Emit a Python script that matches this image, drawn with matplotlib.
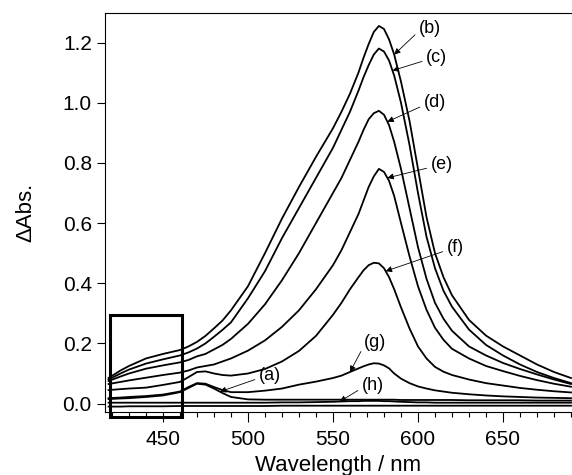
import numpy as np
import matplotlib.pyplot as plt
from matplotlib.patches import Rectangle
from matplotlib.ticker import MultipleLocator

plt.rcParams['font.family'] = ['Liberation Sans', 'DejaVu Sans']

wl = [418, 425, 430, 440, 450, 460, 465, 470, 475, 480, 485, 490, 500, 510, 520,
      530, 540, 550, 555, 560, 565, 568, 571, 574, 577, 580, 583, 586, 590, 595,
      600, 605, 610, 615, 620, 630, 640, 650, 660, 670, 680, 690]

# Spectres (a) ... (h) + ligne de base
b = [0.085, 0.110, 0.125, 0.150, 0.165, 0.178, 0.190, 0.205, 0.225, 0.250, 0.276, 0.310, 0.390, 0.500, 0.615,
     0.720, 0.820, 0.915, 0.970, 1.030, 1.100, 1.150, 1.195, 1.235, 1.255, 1.245, 1.210, 1.160, 1.070, 0.940,
     0.780, 0.620, 0.500, 0.420, 0.360, 0.278, 0.226, 0.190, 0.160, 0.130, 0.105, 0.085]
c = [0.080, 0.100, 0.113, 0.133, 0.147, 0.160, 0.170, 0.183, 0.200, 0.222, 0.245, 0.270, 0.350, 0.440, 0.550,
     0.650, 0.750, 0.850, 0.910, 0.970, 1.040, 1.085, 1.125, 1.160, 1.180, 1.170, 1.140, 1.090, 1.000, 0.860,
     0.700, 0.555, 0.450, 0.375, 0.322, 0.246, 0.195, 0.160, 0.130, 0.105, 0.085, 0.068]
d = [0.075, 0.090, 0.100, 0.116, 0.127, 0.137, 0.145, 0.157, 0.165, 0.180, 0.195, 0.215, 0.265, 0.330, 0.410,
     0.500, 0.600, 0.700, 0.750, 0.810, 0.870, 0.910, 0.945, 0.965, 0.973, 0.960, 0.925, 0.870, 0.780, 0.650,
     0.520, 0.415, 0.335, 0.282, 0.242, 0.190, 0.160, 0.135, 0.115, 0.097, 0.080, 0.065]
e = [0.065, 0.072, 0.077, 0.086, 0.095, 0.103, 0.110, 0.120, 0.125, 0.130, 0.140, 0.150, 0.176, 0.210, 0.255,
     0.310, 0.380, 0.460, 0.510, 0.570, 0.630, 0.675, 0.720, 0.755, 0.780, 0.770, 0.740, 0.690, 0.600, 0.490,
     0.390, 0.312, 0.252, 0.212, 0.182, 0.150, 0.125, 0.108, 0.092, 0.078, 0.066, 0.056]
f = [0.045, 0.048, 0.050, 0.053, 0.062, 0.072, 0.088, 0.105, 0.107, 0.100, 0.095, 0.093, 0.100, 0.115, 0.140,
     0.175, 0.225, 0.295, 0.335, 0.380, 0.420, 0.443, 0.460, 0.468, 0.466, 0.450, 0.420, 0.380, 0.320, 0.250,
     0.190, 0.150, 0.122, 0.106, 0.095, 0.080, 0.068, 0.060, 0.052, 0.046, 0.041, 0.037]
g = [0.018, 0.020, 0.022, 0.025, 0.030, 0.040, 0.055, 0.068, 0.066, 0.055, 0.045, 0.038, 0.038, 0.043, 0.050,
     0.063, 0.073, 0.085, 0.093, 0.105, 0.117, 0.124, 0.130, 0.134, 0.133, 0.127, 0.117, 0.100, 0.083, 0.068,
     0.057, 0.050, 0.044, 0.040, 0.036, 0.031, 0.027, 0.024, 0.022, 0.020, 0.019, 0.018]
a = [0.015, 0.017, 0.018, 0.022, 0.027, 0.038, 0.052, 0.066, 0.063, 0.050, 0.035, 0.022, 0.014, 0.013, 0.013,
     0.013, 0.013, 0.013, 0.013, 0.013, 0.013, 0.013, 0.013, 0.013, 0.013, 0.013, 0.013, 0.013, 0.012, 0.012,
     0.012, 0.012, 0.012, 0.012, 0.012, 0.011, 0.011, 0.011, 0.011, 0.010, 0.010, 0.010]
h = [0.003, 0.003, 0.003, 0.003, 0.003, 0.003, 0.003, 0.003, 0.003, 0.003, 0.003, 0.003, 0.003, 0.003, 0.004,
     0.004, 0.005, 0.006, 0.007, 0.008, 0.008, 0.009, 0.009, 0.009, 0.009, 0.008, 0.008, 0.007, 0.006, 0.005,
     0.004, 0.004, 0.003, 0.003, 0.003, 0.003, 0.003, 0.003, 0.003, 0.003, 0.003, 0.003]
base = [-0.010, -0.010, -0.009, -0.009, -0.009, -0.008, -0.008, -0.008, -0.008, -0.008, -0.008, -0.008, -0.008,
        -0.008, -0.007, -0.007, -0.007, -0.007, -0.007, -0.007, -0.007, -0.007, -0.007, -0.007, -0.007, -0.007,
        -0.007, -0.007, -0.007, -0.007, -0.007, -0.007, -0.007, -0.007, -0.007, -0.007, -0.007, -0.007, -0.007,
        -0.007, -0.007, -0.007]

series = {'(a)': a, '(b)': b, '(c)': c, '(d)': d, '(e)': e, '(f)': f, '(g)': g, '(h)': h}

# Étiquettes : position du texte (nm, ΔAbs) et longueur d'onde visée par la flèche
labels = ['(a)', '(b)', '(c)', '(d)', '(e)', '(f)', '(g)', '(h)']
text_x = [513, 607, 611, 610, 614, 622, 575, 573.5]
text_y = [0.093, 1.246, 1.15, 1.0, 0.794, 0.518, 0.203, 0.06]
tip_x = [483.5, 586, 585, 582, 582, 581, 560, 554]

fig = plt.figure(figsize=(5.72, 4.75), dpi=100)
ax = fig.add_axes([0.1836, 0.1326, 0.8164, 0.84])

for s in [base, h, a, g, f, e, d, c, b]:
    ax.plot(wl, s, color='black', lw=1.3)

for lab, tx, ty, px in zip(labels, text_x, text_y, tip_x):
    py = np.interp(px, wl, series[lab])
    ax.annotate(lab, xy=(px, py), xytext=(tx, ty), ha='center', va='center', fontsize=13,
                arrowprops=dict(arrowstyle='-|>', color='black', lw=0.6, mutation_scale=9,
                                shrinkA=1, shrinkB=0, relpos=(0.0, 0.35)))

# Cadre autour de la zone 420-460 nm
ax.add_patch(Rectangle((419, -0.045), 42, 0.341, fill=False, lw=2.2, ec='black', clip_on=False))

ax.set_xlim(415.9, 690.6)
ax.set_ylim(-0.028, 1.298)
ax.xaxis.set_major_locator(MultipleLocator(50))
ax.xaxis.set_minor_locator(MultipleLocator(10))
ax.yaxis.set_major_locator(MultipleLocator(0.2))
ax.yaxis.set_major_formatter(plt.FormatStrFormatter('%.1f'))
ax.tick_params(which='major', direction='out', length=6, width=0.8, labelsize=15)
ax.tick_params(which='minor', direction='out', length=3.5, width=0.8)
ax.tick_params(axis='x', which='major', length=7, pad=6)
ax.spines['right'].set_visible(False)
for sp in ['left', 'top', 'bottom']:
    ax.spines[sp].set_linewidth(0.8)

ax.set_xlabel('Wavelength / nm', fontsize=16, labelpad=4)
ax.set_ylabel('ΔAbs.', fontsize=16, labelpad=19)

fig.savefig('out.png', dpi=100)
